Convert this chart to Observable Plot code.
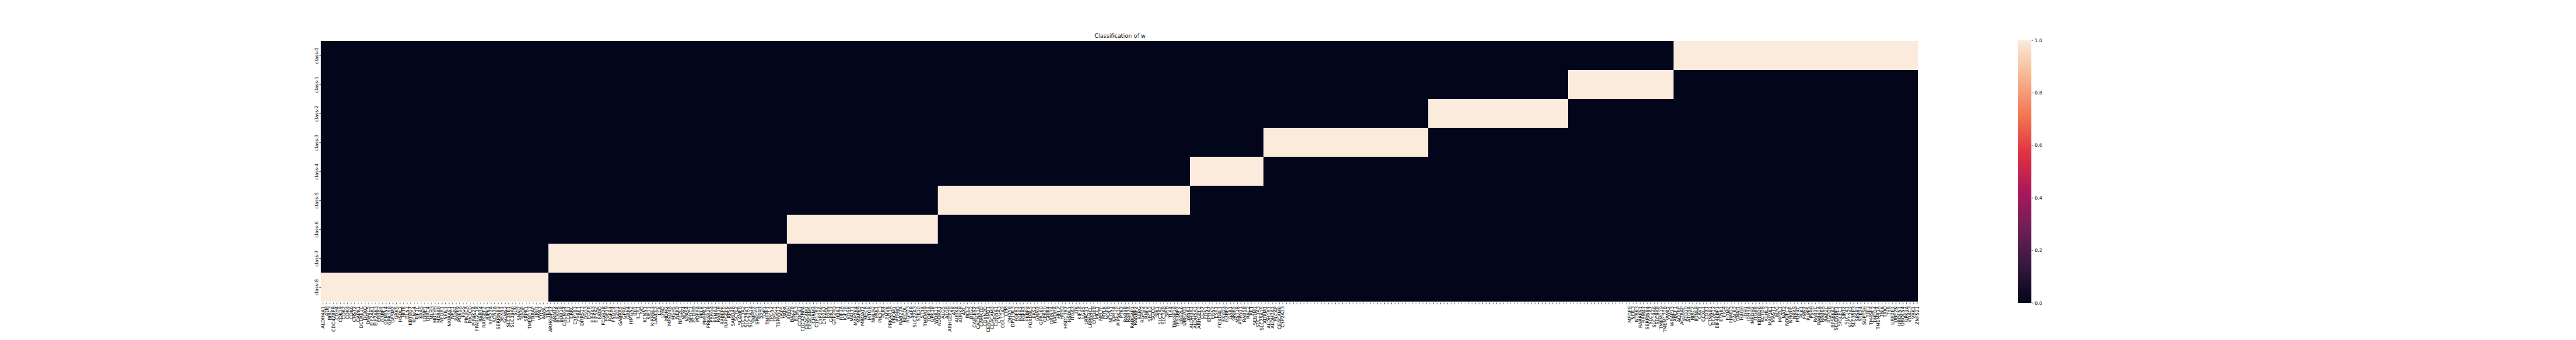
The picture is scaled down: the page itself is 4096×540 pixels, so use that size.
<!DOCTYPE html>
<html><head><meta charset="utf-8">
<script src="https://cdn.jsdelivr.net/npm/d3@7"></script>
<script src="https://cdn.jsdelivr.net/npm/@observablehq/plot@0.6"></script>
<style>
html,body{margin:0;padding:0;background:#fff;}
#wrap{position:relative;width:4096px;height:540px;overflow:hidden;}
#wrap svg{position:absolute;top:0;}
</style></head><body><div id="wrap"></div>
<script>
const title = "Classification of w";
const classes = ["class-0","class-1","class-2","class-3","class-4","class-5","class-6","class-7","class-8"];

const class8Genes = ["ALDH4A1","ATM","BIRC3","CDC42BPB","CDH4","CDK19","CDK2","CDK4","CDK6","CHST2","DAPK1","DCLRE1C","DGKQ","DNAJC5","EIF2AK1","EIF2AK3","ERBB2","G3BP1","GEMIN4","GPR158","GPSM2","GRK5","HSDL2","IBTK","ITLN1","KBTBD7","KCNG4","KIF1C","KRAS","LONP1","LRRC4","MLH3","MUTYH","MXRA8","NEGR1","NEIL1","NKIRAS1","NPC1","PAPPA","PDE5A","PIGS","PIK3CA","PIK3CD","PIP4K2A","PPARGC1A","RAB34","RAPGEF2","RIPK1","RPS27A","SCN7A","SERPINB3","SFXN1","SGMS2","SLC35E1","SLC39A6","SLN","SNAI2","SPOP","SRPK1","TMEM117","TRRAP","URI1","VWA1","WASL","YES1"];
const class7Genes = ["ARHGAP17","ARNT2","BCKDK","BUB1B","CACNG4","CCNB1","CRKL","CYP1B1","CYR61","DHRS13","DSG3","EGFR","EIF4A3","EIF5A2","FADD","FCGR2B","FGF19","FGFR4","FNDC4","FZD1","GABRA5","GPR6","GRK4","HMGN2","IDI1","IL1R1","IVD","KCNN1","KIF11","KIRREL3","LANCL2","LCK","LY6D","MDM2","MFSD4A","MSH5","NEK9","NFE2L1","NOX4","NPAS4","NPDC1","PCDH9","PDE8A","PKLR","PMEPA1","PRKAR2B","PRRG4","PSMA3","RAB1B","RABEPK","RAPGEF6","RPS6","SAMD4B","SCYL2","SLAMF8","SLC13A2","SLC29A1","SLC7A14","SMPD2","SPECC1","SSH3","TDP1","TMEFF1","TPCN2","TPSG1","TSPAN17","USP5","VAPA"];
const class6Genes = ["APOH","BAZ2B","BTNL3","CCDC47","CDC42BPA","CEACAM1","CEACAM5","CHRM3","CYP11B2","CYP2A6","CYP2A7","FASN","GPR37","GTF2H3","HBA1","HIF3A","IGF1R","KDSR","MALT1","MAP2K4","MAPK9","MBOAT7","MECR","MTOR","NHLH2","PAK1","PIK3C3","PLK4","PMVK","PRKAR1A","PROM1","PTPRD","RAB27A","RECQL","RGPD3","SAFB","SLC22A3","STK10","STYX","TMEM19","TOP3A","UPK1B","WDR11"];
const class5Genes = ["ADORA1","ALG5","ALG8","ARHGEF28","ATR","AURKA","AURKB","AXL","BCL2","BTG2","CABLES2","CACNA1A","CAMK1D","CDKN2D","CEACAM21","CEACAM3","CHRNA1","CNGA3","COL11A2","CPM","DHX58","DPY19L3","FGFR1","FGFR2","FGFR3","FKBP4","FOXD4L5","FRS2","GNAI3","GPR160","GPR20","GRIK4","GRIN3A","HADHA","HELZ","HRH3","HSD17B7","HSDL1","ITGA3","ITK","KIF1A","LGR5","LRRC31","LRRN4CL","LYPD6B","MCL1","MELTF","MYLK","NGFR","NLGN1","NPY1R","PIP5K1C","PTK2","RAB9B","RAB7A","RABGAP1","RANBP2","RERG","RGPD2","RNF2","SEC62","SGCG","SIK1","SLC2A2","SLC7A8","SPIB","TLR4","TM4SF18","TP53BP2","UBE2L6","UBE2Q1","WNK1"];
const class4Genes = ["ALDH3A1","ALDH5A1","ARHGEF2","CCR7","EDN1","EPHA7","ERN2","ESR1","FOXD4L1","FXYD3","G3BP2","GAB1","GRIK5","MST1R","PTPN11","RAB5B","RAC2","RET","SERTM1","SLC13A3","SLC25A15"];
const class3Genes = ["ADRM1","ALDH1B1","ALDH7A1","BLCAP","CEACAM6","CYP2A13","","","","","","","","","","","","","","","","","","","","","","","","","","","","","","","","","","","","","","","","",""];
const class2Genes = ["","","","","","","","","","","","","","","","","","","","","","","","","","","","","","","","","","","","","","","",""];
const class1Genes = ["","","","","","","","","","","","","","","","","","MFGE8","NEIL3","NTRK3","RARRES1","RBM47","SERPINB4","SLC1A7","SLC19A6","SLC9A8","TMEM119","TMEM170B","VWA2","WRAP73"];
const class0Genes = ["ABCF1","ADTRP","AGTRAP","ATG10","ATG9A","BIRC2","BTNL8","CAV1","CCXL1","CDX1","CTNNB1","DCAF12","EIF4EBP1","ETNK1","FIG4","FITM2","FRMD3","GALK2","GNAI1","HAGH","IDH1","IDH3A","IMPDH2","ITGB8","KBTBD6","KCTD8","KLHL3","MAP3K1","MAST1","MPG","MPZL1","NAT2","NDUFC2","NFKBIE","NRAS","PDE4C","PLK1","PMS2","PLPP5","PSPH","RAB3C","RAB40A","RAB6A","RAP2C","RGPD6","RPS6KA2","SELENBP1","SIGLEC1","SIRT2","SLC1A1","SLC12A2","SLC35E3","SPSB1","STK24","SUPT5H","TFF3","TM4SF4","TMED4","TMEM41A","TNIK","TRIO","TYR","UBE2E1","UBE2N","UBQLN1","UBQLN4","UPK3A","VDAC3","VRK1","ZNF521"];

const colorTicks = [0.0, 0.2, 0.4, 0.6, 0.8, 1.0];
const rocketColors = ["#03051a","#35193e","#701f57","#ad1759","#e13342","#f37651","#f6b48f","#faebdd"];

const blocks = [
  ["class-8", class8Genes], ["class-7", class7Genes], ["class-6", class6Genes],
  ["class-5", class5Genes], ["class-4", class4Genes], ["class-3", class3Genes],
  ["class-2", class2Genes], ["class-1", class1Genes], ["class-0", class0Genes]
];
const genes = [], geneClass = [];
for (const [c, list] of blocks) for (const g of list) { genes.push(g); geneClass.push(c); }
const cells = [];
genes.forEach((g, i) => classes.forEach(c => cells.push({i, c, v: geneClass[i] === c ? 1 : 0})));
const idx = genes.map((g, i) => i);

const rocketDomain = rocketColors.map((c, k) => k / (rocketColors.length - 1));
const colorScale = {type: "linear", domain: rocketDomain, range: rocketColors, interpolate: "rgb"};

const S = 0.54;
const fTick = 13.89 * S, fTitle = 16.67 * S, tk = 4.86 * S;
const mTop = 118 * S, mBottom = 540 - 890 * S;
const mLeft = 945 * S, mRight = 4096 - 5649 * S;

const heat = Plot.plot({
  width: 4096, height: 540,
  marginLeft: mLeft, marginRight: mRight, marginTop: mTop, marginBottom: mBottom,
  style: {fontFamily: "'DejaVu Sans', sans-serif", fontSize: fTick + "px", color: "#000", background: "transparent", overflow: "visible"},
  x: {type: "band", domain: idx, padding: 0},
  y: {type: "band", domain: classes, padding: 0},
  color: colorScale,
  marks: [
    Plot.cell(cells, {x: "i", y: "c", fill: "v", inset: 0, shapeRendering: "crispEdges"}),
    Plot.axisX({ticks: idx, tickFormat: i => genes[i], tickRotate: -90, tickSize: tk, tickPadding: tk, strokeWidth: 0.6, label: null, fontSize: fTick}),
    Plot.axisY({tickRotate: -90, tickSize: tk, tickPadding: tk, strokeWidth: 0.6, label: null, fontSize: fTick}),
    Plot.text([title], {frameAnchor: "top", dy: -4.5, lineAnchor: "bottom", fontSize: fTitle, fill: "#000"})
  ]
});
heat.style.left = "0px";
document.getElementById("wrap").appendChild(heat);

const cbLeft = 5943 * S, cbRight = 5981 * S;
const cbOffset = cbLeft - 20;
const rampStep = 1 / 300;
const ramp = d3.range(0, 1, rampStep);
const cbar = Plot.plot({
  width: 120, height: 540,
  marginLeft: 20, marginRight: 120 - 20 - (cbRight - cbLeft), marginTop: mTop, marginBottom: mBottom,
  style: {fontFamily: "'DejaVu Sans', sans-serif", fontSize: fTick + "px", color: "#000", background: "transparent", overflow: "visible"},
  x: {domain: [0, 1], axis: null},
  y: {domain: [0, 1]},
  color: colorScale,
  marks: [
    Plot.rect(ramp, {x1: 0, x2: 1, y1: d => d, y2: d => Math.min(1, d + rampStep * 1.5), fill: d => d + rampStep / 2, shapeRendering: "crispEdges"}),
    Plot.axisY({anchor: "right", ticks: colorTicks, tickFormat: d => d.toFixed(1), tickSize: tk, tickPadding: tk, strokeWidth: 0.6, label: null, fontSize: fTick})
  ]
});
cbar.style.left = cbOffset + "px";
document.getElementById("wrap").appendChild(cbar);
</script></body></html>
